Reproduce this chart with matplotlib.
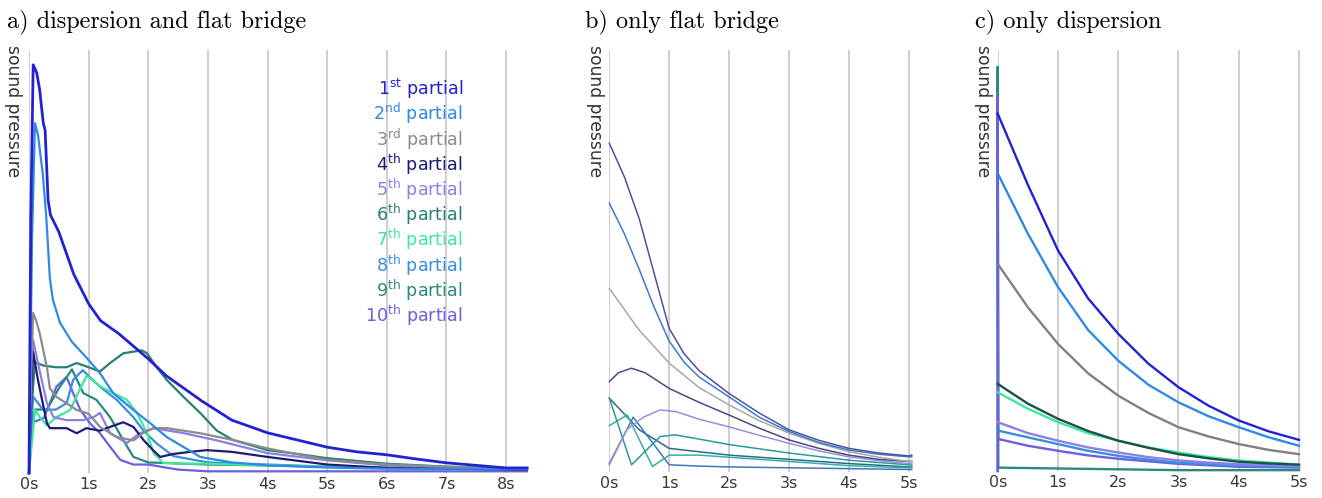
import matplotlib
matplotlib.use("Agg")
import matplotlib.pyplot as plt

W, H = 1322, 498

# ---------------- panel a: dispersion and flat bridge ----------------
a_t1 = [0, 0.03, 0.07, 0.13, 0.18, 0.21, 0.24, 0.27, 0.32, 0.36, 0.5, 0.75, 1.0, 1.2, 1.5, 1.75, 2.0, 2.3, 2.6, 2.9, 3.4, 4.0, 4.5, 5.0, 5.5, 6.0, 6.5, 7.0, 7.5, 8.0, 8.35]
a_v1 = [0, 0.6, 0.965, 0.946, 0.905, 0.865, 0.827, 0.81, 0.645, 0.61, 0.57, 0.47, 0.40, 0.36, 0.33, 0.30, 0.27, 0.23, 0.20, 0.17, 0.125, 0.095, 0.078, 0.061, 0.05, 0.043, 0.033, 0.024, 0.018, 0.012, 0.012]
a_t2 = [0, 0.05, 0.1, 0.15, 0.23, 0.29, 0.35, 0.40, 0.52, 0.72, 1.0, 1.19, 1.41, 1.75, 2.03, 2.31, 2.87, 3.4, 4.0, 5.0, 6.0, 7.0, 8.0, 8.35]
a_v2 = [0, 0.55, 0.827, 0.80, 0.709, 0.605, 0.46, 0.41, 0.355, 0.31, 0.267, 0.236, 0.189, 0.149, 0.118, 0.085, 0.038, 0.025, 0.018, 0.013, 0.01, 0.01, 0.01, 0.01]
a_t3 = [0, 0.04, 0.07, 0.12, 0.18, 0.30, 0.35, 0.46, 0.63, 0.80, 1.0, 1.19, 1.47, 1.75, 1.92, 2.09, 2.31, 2.59, 2.87, 3.42, 4.0, 5.0, 6.0, 7.0, 8.35]
a_v3 = [0, 0.25, 0.378, 0.36, 0.33, 0.25, 0.20, 0.18, 0.165, 0.149, 0.14, 0.109, 0.085, 0.077, 0.095, 0.106, 0.106, 0.10, 0.094, 0.078, 0.058, 0.031, 0.02, 0.015, 0.01]
a_t4 = [0, 0.04, 0.07, 0.15, 0.30, 0.35, 0.63, 0.80, 0.96, 1.19, 1.36, 1.58, 1.75, 1.92, 2.08, 2.2, 2.42, 2.7, 2.98, 3.4, 4.0, 5.0, 6.0, 7.0, 8.35]
a_v4 = [0, 0.2, 0.286, 0.22, 0.118, 0.106, 0.106, 0.094, 0.106, 0.10, 0.109, 0.12, 0.109, 0.078, 0.054, 0.038, 0.045, 0.05, 0.054, 0.05, 0.038, 0.02, 0.012, 0.01, 0.008]
a_t5 = [0, 0.04, 0.07, 0.15, 0.30, 0.41, 0.63, 0.91, 1.08, 1.19, 1.25, 1.36, 1.64, 1.86, 2.09, 2.6, 3.15, 4.0, 5.0, 6.0, 7.0, 8.35]
a_v5 = [0, 0.2, 0.314, 0.26, 0.165, 0.132, 0.125, 0.125, 0.132, 0.142, 0.125, 0.094, 0.071, 0.094, 0.106, 0.094, 0.077, 0.047, 0.03, 0.018, 0.012, 0.01]
a_t6 = [0, 0.04, 0.1, 0.24, 0.45, 0.63, 0.80, 1.0, 1.19, 1.36, 1.58, 1.89, 1.98, 2.14, 2.31, 2.59, 2.87, 3.15, 3.42, 4.0, 4.4, 5.0, 6.0, 7.0, 8.35]
a_v6 = [0, 0.15, 0.262, 0.254, 0.25, 0.25, 0.26, 0.25, 0.24, 0.26, 0.283, 0.29, 0.283, 0.25, 0.22, 0.18, 0.142, 0.10, 0.078, 0.054, 0.047, 0.035, 0.022, 0.015, 0.01]
a_t7 = [0, 0.1, 0.18, 0.30, 0.46, 0.69, 0.86, 0.97, 1.19, 1.41, 1.64, 1.81, 1.98, 2.09, 2.25, 2.6, 3.0, 3.42, 4.0, 5.0, 6.0, 7.0, 8.35]
a_v7 = [0, 0.15, 0.132, 0.113, 0.132, 0.149, 0.20, 0.23, 0.205, 0.189, 0.173, 0.142, 0.094, 0.047, 0.024, 0.022, 0.022, 0.02, 0.018, 0.015, 0.012, 0.01, 0.01]
a_t8 = [0, 0.04, 0.07, 0.24, 0.45, 0.63, 0.74, 0.9, 1.19, 1.47, 1.75, 1.92, 2.14, 2.42, 3.0, 4.0, 5.0, 6.0, 7.0, 8.35]
a_v8 = [0, 0.12, 0.18, 0.149, 0.15, 0.165, 0.22, 0.243, 0.204, 0.173, 0.132, 0.10, 0.07, 0.04, 0.025, 0.02, 0.015, 0.012, 0.01, 0.01]
a_t9 = [0, 0.05, 0.1, 0.3, 0.5, 0.72, 0.91, 1.13, 1.36, 1.58, 1.75, 2.0, 3.0, 4.0, 5.0, 6.0, 7.0, 8.35]
a_v9 = [0, 0.1, 0.15, 0.15, 0.2, 0.245, 0.189, 0.173, 0.132, 0.078, 0.038, 0.025, 0.02, 0.018, 0.015, 0.012, 0.01, 0.01]
a_t10 = [0, 0.03, 0.07, 0.25, 0.46, 0.63, 0.74, 0.86, 1.02, 1.19, 1.36, 1.53, 1.75, 2.0, 2.5, 3.0, 4.0, 5.0, 6.0, 8.35]
a_v10 = [0, 0.15, 0.12, 0.13, 0.204, 0.227, 0.189, 0.149, 0.118, 0.094, 0.062, 0.031, 0.02, 0.02, 0.008, 0.004, 0.004, 0.004, 0.004, 0.004]

a_times = [a_t1, a_t2, a_t3, a_t4, a_t5, a_t6, a_t7, a_t8, a_t9, a_t10]
a_vals = [a_v1, a_v2, a_v3, a_v4, a_v5, a_v6, a_v7, a_v8, a_v9, a_v10]

partial_colors = ["#2222d4", "#2e8ae2", "#8c8c8c", "#1c1c78", "#8a80e6",
                  "#2a7e74", "#3ce89a", "#3a8ee0", "#2b8a7e", "#6a60e0"]
partial_labels = ["1$^{\\mathrm{st}}$ partial", "2$^{\\mathrm{nd}}$ partial", "3$^{\\mathrm{rd}}$ partial",
                  "4$^{\\mathrm{th}}$ partial", "5$^{\\mathrm{th}}$ partial", "6$^{\\mathrm{th}}$ partial",
                  "7$^{\\mathrm{th}}$ partial", "8$^{\\mathrm{th}}$ partial", "9$^{\\mathrm{th}}$ partial",
                  "10$^{\\mathrm{th}}$ partial"]

# ---------------- panel b: only flat bridge ----------------
b_t1 = [0, 0.25, 0.5, 0.75, 1.0, 1.25, 1.5, 2.0, 2.5, 3.0, 3.5, 4.0, 4.5, 5.0, 5.05]
b_v1 = [0.779, 0.70, 0.60, 0.47, 0.34, 0.28, 0.24, 0.186, 0.14, 0.10, 0.075, 0.056, 0.045, 0.038, 0.04]
b_t2 = [0, 0.25, 0.5, 0.75, 1.0, 1.25, 1.5, 2.0, 2.5, 3.0, 3.5, 4.0, 4.5, 5.0, 5.05]
b_v2 = [0.637, 0.565, 0.48, 0.39, 0.31, 0.26, 0.225, 0.178, 0.13, 0.096, 0.07, 0.052, 0.042, 0.036, 0.036]
b_t3 = [0, 0.5, 1.0, 1.5, 2.0, 2.5, 3.0, 3.5, 4.0, 4.5, 5.0, 5.05]
b_v3 = [0.435, 0.336, 0.258, 0.2, 0.159, 0.122, 0.092, 0.068, 0.048, 0.035, 0.025, 0.025]
b_t4 = [0, 0.15, 0.37, 0.6, 1.0, 1.5, 2.0, 2.5, 3.0, 3.5, 4.0, 4.5, 5.0, 5.05]
b_v4 = [0.214, 0.235, 0.246, 0.235, 0.198, 0.165, 0.135, 0.104, 0.076, 0.056, 0.04, 0.03, 0.025, 0.025]
b_t5 = [0, 0.29, 0.57, 0.85, 1.12, 1.5, 2.0, 2.5, 3.0, 3.5, 4.0, 4.5, 5.0, 5.05]
b_v5 = [0.017, 0.10, 0.13, 0.147, 0.143, 0.125, 0.107, 0.087, 0.068, 0.05, 0.036, 0.027, 0.02, 0.02]
b_t6 = [0, 0.37, 0.85, 1.1, 1.5, 2.0, 3.0, 4.0, 5.0, 5.05]
b_v6 = [0.175, 0.017, 0.084, 0.088, 0.078, 0.065, 0.045, 0.028, 0.017, 0.017]
b_t7 = [0, 0.3, 0.72, 1.0, 1.5, 2.0, 3.0, 4.0, 5.0, 5.05]
b_v7 = [0.11, 0.135, 0.013, 0.04, 0.04, 0.035, 0.025, 0.015, 0.01, 0.01]
b_t8 = [0, 0.4, 1.0, 1.5, 2.0, 3.0, 4.0, 5.0, 5.05]
b_v8 = [0.02, 0.13, 0.017, 0.014, 0.012, 0.01, 0.008, 0.006, 0.006]
b_t9 = [0, 0.5, 1.0, 1.5, 2.0, 3.0, 4.0, 5.0, 5.05]
b_v9 = [0.175, 0.1, 0.056, 0.048, 0.04, 0.03, 0.02, 0.012, 0.012]

b_times = [b_t1, b_t2, b_t3, b_t4, b_t5, b_t6, b_t7, b_t8, b_t9]
b_vals = [b_v1, b_v2, b_v3, b_v4, b_v5, b_v6, b_v7, b_v8, b_v9]
b_colors = ["#50509e", "#3c7cc8", "#a8a8a8", "#4a4a80", "#9a8ee0",
            "#2a9a9a", "#33b0a0", "#3a78c0", "#2a6a8a"]

# ---------------- panel c: only dispersion ----------------
c_t = [0, 0.5, 1.0, 1.5, 2.0, 2.5, 3.0, 3.5, 4.0, 4.5, 5.0]
c_v1 = [0.849, 0.68, 0.524, 0.41, 0.326, 0.255, 0.199, 0.155, 0.12, 0.094, 0.074]
c_v2 = [0.707, 0.564, 0.437, 0.335, 0.262, 0.205, 0.163, 0.13, 0.104, 0.08, 0.06]
c_v3 = [0.492, 0.389, 0.302, 0.232, 0.179, 0.138, 0.104, 0.082, 0.064, 0.05, 0.04]
c_v4 = [0.207, 0.16, 0.124, 0.095, 0.072, 0.055, 0.04, 0.03, 0.022, 0.018, 0.015]
c_v5 = [0.187, 0.148, 0.116, 0.09, 0.072, 0.056, 0.044, 0.033, 0.025, 0.02, 0.015]
c_v6 = [0.116, 0.09, 0.072, 0.056, 0.044, 0.033, 0.025, 0.02, 0.016, 0.014, 0.012]
c_v7 = [0.096, 0.08, 0.064, 0.048, 0.036, 0.027, 0.02, 0.016, 0.013, 0.011, 0.01]
c_t8 = [0, 0, 0.01, 0.5, 1.0, 1.5, 2.0, 3.0, 4.0, 5.0]
c_v8 = [0, 0.889, 0.076, 0.06, 0.048, 0.037, 0.029, 0.017, 0.01, 0.008]
c_t9 = [0, 0, 0.01, 1.0, 2.0, 3.0, 4.0, 5.0]
c_v9 = [0, 0.96, 0.008, 0.006, 0.004, 0.002, 0.002, 0.002]

c_series = [(c_t9, c_v9, "#2a8a80"), (c_t8, c_v8, "#6a60e0"), (c_t, c_v7, "#3a8ee0"),
            (c_t, c_v6, "#8a80e6"), (c_t, c_v5, "#3ce89a"), (c_t, c_v4, "#1f4f4c"),
            (c_t, c_v3, "#808080"), (c_t, c_v2, "#2e8ae2"), (c_t, c_v1, "#2222d4")]

tick_a = ["0s", "1s", "2s", "3s", "4s", "5s", "6s", "7s", "8s"]
tick_bc = ["0s", "1s", "2s", "3s", "4s", "5s"]

fig = plt.figure(figsize=(W / 100, H / 100), dpi=100)


def make_ax(left_px, xmax, px_per_s, bottom_px, top_px=50):
    width = xmax * px_per_s
    ax = fig.add_axes([left_px / W, 1 - bottom_px / H, width / W, (bottom_px - top_px) / H])
    ax.set_xlim(0, xmax)
    ax.set_ylim(0, 1)
    for s in ax.spines.values():
        s.set_visible(False)
    ax.set_yticks([])
    return ax


def style_ticks(ax, labels):
    ax.set_xticks(range(len(labels)))
    ax.set_xticklabels(labels)
    ax.tick_params(axis="x", length=0, pad=3, labelsize=11.5, labelcolor="#3a3a3a")
    ax.vlines(range(len(labels)), 0, 1, color="#c6c6c6", lw=1.2, zorder=0)


ax_a = make_ax(29, 8.35, 59.64, 473)
style_ticks(ax_a, tick_a)
lwa = [2.0] + [1.6] * 9
for i in range(9, -1, -1):
    ax_a.plot(a_times[i], a_vals[i], color=partial_colors[i], lw=lwa[i], clip_on=False, zorder=3)

ax_b = make_ax(609.3, 5.05, 59.9, 472)
style_ticks(ax_b, tick_bc)
for i in range(len(b_times) - 1, -1, -1):
    ax_b.plot(b_times[i], b_vals[i], color=b_colors[i], lw=1.1, clip_on=False, zorder=3)

ax_c = make_ax(997.7, 5.03, 60.26, 471)
style_ticks(ax_c, tick_bc)
for tt, vv, cc in c_series:
    ax_c.plot(tt, vv, color=cc, lw=1.7, clip_on=False, zorder=3)

# legend text in panel a
for i, lab in enumerate(partial_labels):
    fig.text(463 / W, 1 - (95 + 25.2 * i) / H, lab, color=partial_colors[i], fontsize=12.6,
             ha="right", va="baseline")

# titles
fig.text(6.7 / W, 1 - 27 / H, "a) dispersion and flat bridge", fontsize=17.5, family="cmr10", va="baseline")
fig.text(585 / W, 1 - 27 / H, "b) only flat bridge", fontsize=17.5, family="cmr10", va="baseline")
fig.text(975 / W, 1 - 27 / H, "c) only dispersion", fontsize=17.5, family="cmr10", va="baseline")

# y labels
for xpx in (13, 595, 983):
    fig.text(xpx / W, 1 - 45 / H, "sound pressure", rotation=-90, fontsize=12.3,
             color="#333333", ha="center", va="top")

fig.savefig("out.png", dpi=100)
